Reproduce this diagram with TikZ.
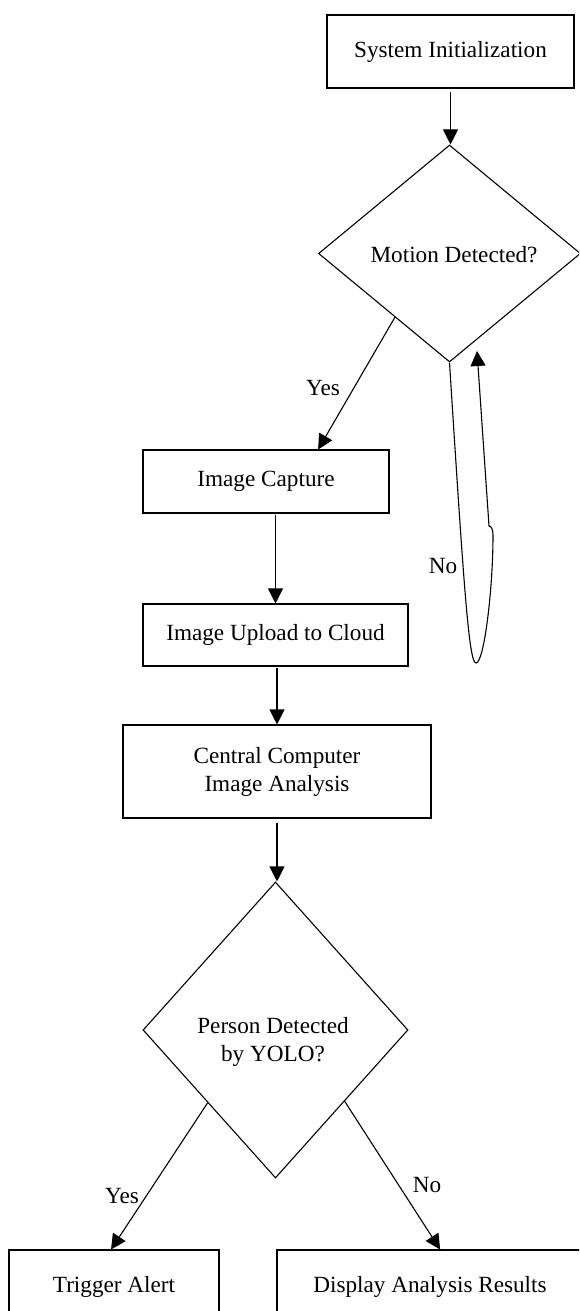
\documentclass[tikz,border=0pt]{standalone}
\usepackage{fontspec}
\setmainfont{Liberation Serif}
\usetikzlibrary{shapes.geometric,arrows.meta,calc}
\begin{document}
\begin{tikzpicture}[x=1pt,y=-1pt,
  font=\fontsize{23.2}{28}\selectfont,
  arr/.style={line width=1.1pt,-{Triangle[length=15pt,width=15pt]}},
  box/.style={draw,line width=1.1pt,rectangle,inner sep=0pt,align=center},
  dia/.style={draw,line width=1.1pt,diamond,inner sep=0pt},
  lbl/.style={inner sep=0pt,align=center}]
\useasboundingbox (0,0) rectangle (579,1311);
\clip (0,0) rectangle (579,1311);

\node[box,minimum width=247pt,minimum height=73pt] (sys) at (450.5,51.5) {System Initialization};
\node[dia,minimum width=262pt,minimum height=217pt] (md) at (449.5,253.5) {};
\node[lbl] (mdt) at (454,255) {Motion Detected?};
\node[box,minimum width=246pt,minimum height=63pt] (cap) at (266,481.5) {Image Capture};
\node[box,minimum width=265pt,minimum height=62pt] (upl) at (275.5,635) {Image Upload to Cloud};
\node[box,minimum width=308pt,minimum height=93pt] (cen) at (277,771.5) {Central Computer\\Image Analysis};
\node[dia,minimum width=265pt,minimum height=296pt] (pd) at (275.5,1030) {};
\node[lbl] (pdt) at (273,1042) {Person Detected\\by YOLO?};
\node[box,minimum width=210pt,minimum height=74pt] (trig) at (114,1287) {Trigger Alert};
\node[box,minimum width=306pt,minimum height=74pt] (disp) at (430,1287) {Display Analysis Results};

\draw[arr,shorten <=3pt] (sys.south) -- (sys.south |- md.north);
\draw[arr] ($(md.west)!0.585!(md.south)$) -- ($(cap.north west)!0.711!(cap.north east)$);
\node[lbl] (yes1) at (323,388) {Yes};

\coordinate (lp) at (477,351);
\draw[arr] (md.south) .. controls (464,590) and (469,663) .. (476,663)
  .. controls (484,663) and (493,590) .. (493,535)
  .. controls (493,529) and (491,526) .. (489,526) -- (lp);
\node[lbl] (no1) at (443,566) {No};

\draw[arr,shorten <=1pt] (cap.south -| upl.north) -- (upl.north);
\draw[arr,shorten <=1pt] (upl.south -| cen.north) -- (cen.north);
\draw[arr,shorten <=4pt] (cen.south) -- (cen.south |- pd.north);
\draw[arr] ($(pd.west)!0.49!(pd.south)$) -- ($(trig.north west)!0.486!(trig.north east)$);
\draw[arr] ($(pd.east)!0.48!(pd.south)$) -- ($(disp.north west)!0.533!(disp.north east)$);
\node[lbl] (yes2) at (122,1196) {Yes};
\node[lbl] (no2) at (427,1185) {No};
\end{tikzpicture}
\end{document}
